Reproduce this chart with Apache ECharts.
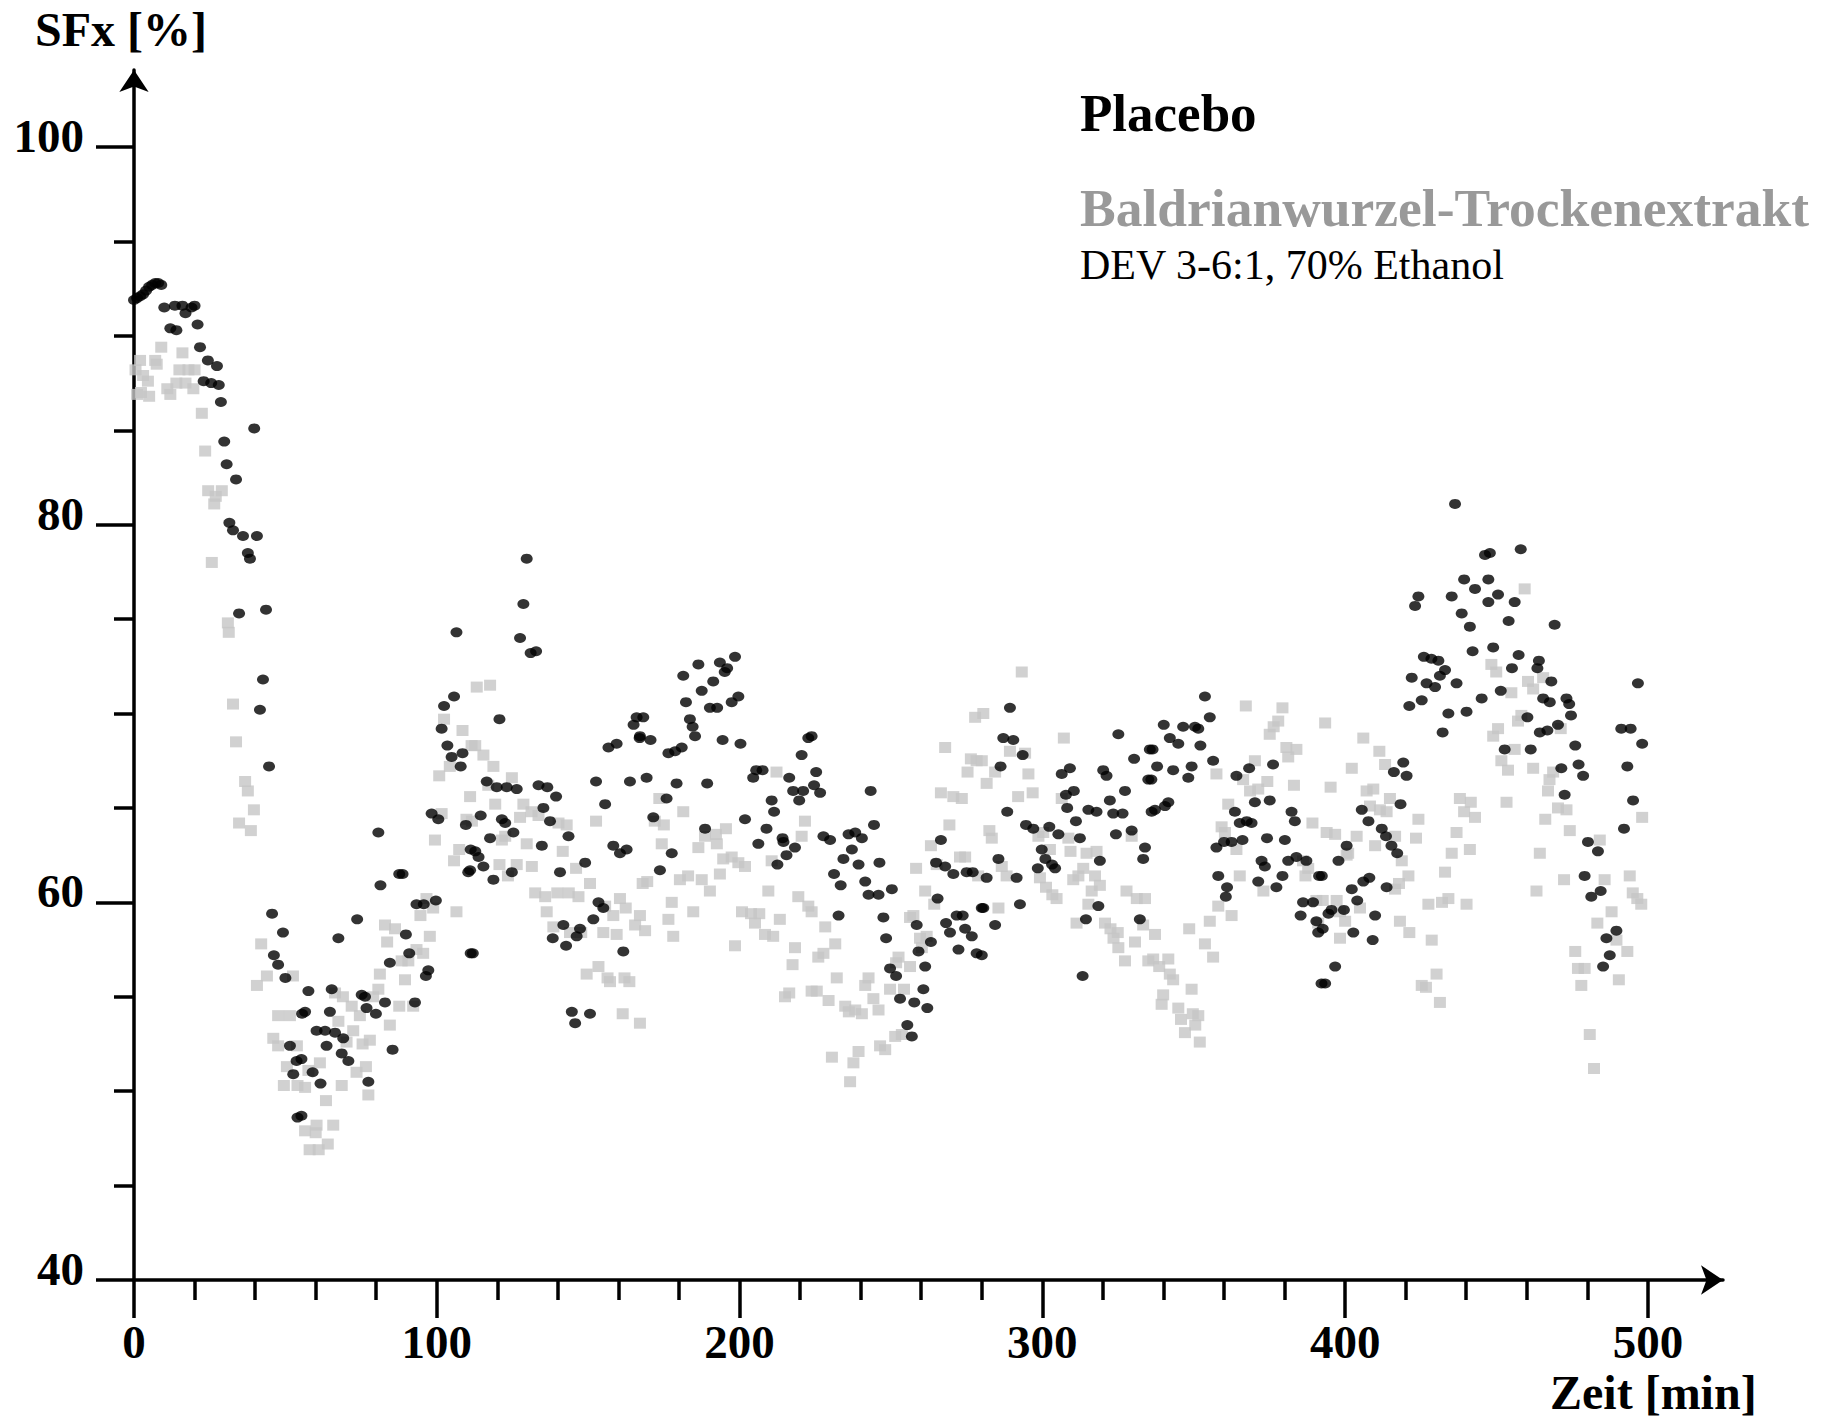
<!DOCTYPE html>
<html><head><meta charset="utf-8">
<script src="https://cdn.jsdelivr.net/npm/echarts@6/dist/echarts.min.js"></script>
<style>html,body{margin:0;padding:0;background:#fff}#chart{width:1838px;height:1421px}</style>
</head><body><div id="chart"></div>
<script>
// Placebo (black) : [time in min, SFx %]
const placebo = [
[0,91.9],[1,92.0],[2,92.1],[3,92.2],[4,92.4],[5,92.6],[6,92.7],[7,92.8],[8,92.8],[9,92.7],
[10,91.5],[12,90.4],[13.5,91.6],[14,90.3],[16,91.6],[17,91.2],[19,91.5],[20,91.6],[21,90.6],[21.8,89.4],
[23,87.6],[24.4,88.7],[25.5,87.5],[27.4,88.4],[28,87.4],[28.7,86.5],[29.8,84.4],[30.6,83.2],[31.5,80.1],[32.7,79.7],
[33.7,82.4],[34.7,75.3],[36,79.4],[37.6,78.5],[38.3,78.2],[39.7,85.1],[40.6,79.4],[41.6,70.2],[42.6,71.8],[43.6,75.5],
[44.6,67.2],[45.6,59.4],[46.2,57.2],[47.6,56.7],[49.2,58.4],[50,56.0],[51.5,52.4],[52.6,50.9],[53.7,51.6],[54,48.6],[55.5,54.1],
[55.3,51.7],[55.3,48.7],[56.5,54.2],[57.6,55.3],[59,51.0],[60.3,53.2],[61.6,50.4],[63.1,53.2],[63.6,52.4],[64.7,54.2],
[65.3,55.4],[66.4,53.1],[67.5,58.1],[68.6,52.0],[69.1,52.8],[70.8,51.6],[73.7,59.1],[75.2,55.1],[76.3,55.0],[76.8,54.4],
[77.4,50.5],[79.9,54.1],[80.7,63.7],[81.4,60.9],[82.9,54.7],[84.5,56.8],[85.4,52.2],[87.6,61.5],[88.7,61.5],[89.8,58.3],
[90.9,57.3],[92.8,54.7],[93.3,59.9],[95.7,59.9],[96.4,56.1],[97.2,56.4],[98.3,64.7],[99.7,60.1],[100.5,64.4],[101.6,69.2],
[102.4,70.4],[103.5,68.3],[104.9,67.7],[105.7,70.9],[106.5,74.3],[107.9,67.2],[108.5,67.9],[109.6,64.1],[110.4,61.6],[111.2,62.8],[111.2,57.3],
[111,61.7],[111.9,57.3],[112.7,62.7],[113.8,62.4],[114.5,64.6],[115.4,61.9],[116.5,66.4],[117.6,63.4],[118.7,61.2],[119.8,66.1],
[120.7,69.7],[121.5,64.4],[122.6,64.2],[123.1,66.1],[124.8,61.6],[125.3,63.7],[126.4,66.0],[127.5,74.0],[128.6,75.8],[129.7,78.2],
[131,73.2],[132.8,73.3],[133.6,66.2],[134.7,63.0],[135.2,65.0],[136.5,66.1],[137.4,64.3],[138.3,58.1],[139.4,65.6],[140.7,61.6],
[141.8,58.8],[142.7,57.7],[143.5,63.5],[144.6,54.2],[145.7,53.6],[146.2,58.2],[147.3,58.6],[149,62.1],[150.6,54.1],[151.7,59.1],
[152.6,66.4],[153.4,60.0],[155,59.7],[155.6,65.2],[156.7,68.2],[158.3,63.0],[159.4,68.4],[160.5,62.6],[161.6,57.4],[162.7,62.8],
[163.8,66.4],[165,69.4],[166,69.8],[167,68.7],
[167.1,68.8],[168.2,69.8],[169.3,66.6],[170.6,68.6],[171.5,64.5],[173.7,61.7],[175.9,65.5],[176.5,67.9],[177.6,62.6],[178.7,68.0],
[179.2,66.3],[180.9,68.2],[181.4,72.0],[182.3,70.6],[183.6,69.7],[184.5,69.3],[185.3,68.8],[186.4,72.6],[187.5,71.2],[188.6,63.9],
[189.3,66.3],[190.2,70.3],[191.3,71.7],[192.6,70.3],[193.5,72.7],[194.4,68.6],[195.1,72.2],[195.9,72.4],[197.4,70.6],[198.5,73.0],
[199.6,70.9],[200.3,68.4],[201.8,64.4],[204.5,66.6],[205.5,67.0],[206.2,63.1],[207.6,67.0],[208.9,63.9],[210.6,65.4],[211.4,64.8],
[212.5,62.0],[214.2,63.4],[214.5,63.2],[215.5,62.5],[216.4,66.6],[217.7,65.9],[218.3,62.9],[219.7,65.4],[220.5,67.8],[221,65.9],[222.7,68.7],
[223.8,68.8],[224.6,66.2],[225.3,66.9],[226.6,65.8],[227.7,63.5],[229.9,63.3],[231.2,61.5],[232.7,59.3],[233.4,60.9],[234.3,62.3],
[236,63.6],[237.1,62.8],[238.2,63.7],[239.3,62.0],[240.4,63.4],[241.5,61.1],[242.6,60.4],[243.3,65.9],[244.4,64.1],[245.9,60.4],
[246.2,62.1],[247.5,59.2],[248.4,58.1],[249.7,56.5],[250.3,60.7],[251.7,56.1],[253,54.9],[255.4,53.5],[256.9,52.9],[257.7,54.7],
[258.5,58.8],[259.1,57.4],[260.7,55.4],[261.3,56.6],[262,54.4],[263.2,57.9],[264.9,62.1],[265.4,60.2],[266.5,63.3],[267.9,61.9],
[268.2,58.9],[269.5,58.4],[270.6,61.5],[271.7,59.3],[272.3,57.5],[273.7,59.3],[274.5,58.6],[275,61.6],[276.7,58.2],[277,61.6],[278.3,57.3],[280,59.7],
[280,57.2],[280.5,59.7],[281.6,61.3],[284.4,58.8],[285.5,62.3],[286.2,67.2],[287.1,68.7],[288.4,64.8],[289.3,70.3],[290.4,68.6],
[291.5,61.3],[292.6,59.9],[293.5,67.8],[294.6,64.1],[297,63.9],[298.5,61.8],[299.8,62.8],[301,62.3],[302.3,64.0],[303.2,62.0],
[304.2,61.8],[305.3,63.6],[306.4,66.8],[307.8,65.7],[308.2,65.0],[309.1,67.1],[310.4,65.9],[311.1,64.3],[312.4,63.4],[313.3,56.1],
[314.4,59.1],[315.2,64.9],[317.9,64.8],[318.5,59.8],[319,62.2],[320.1,67.0],[321.2,66.7],[322.3,65.4],[323.4,64.7],[324.3,63.6],
[325.1,68.9],[326.5,64.7],[327.3,65.9],[329.5,63.8],[330.3,67.6],[332.2,59.1],[333.3,62.3],[333.9,62.9],[335,66.5],[335.5,68.1],[336.1,64.8],
[336.4,68.1],[336,66.5],[337.2,64.9],[337.9,67.2],[340.1,69.4],[341.6,65.3],[340.5,65.1],[342.1,68.7],[343.2,67.0],[344.9,68.4],
[346.5,69.3],[348.2,66.6],[349.3,67.2],[350.4,69.3],[351.5,69.2],[352.2,68.3],[353.7,70.9],[355.3,69.8],[356.4,67.5],[357.5,62.9],
[358.1,61.4],[360.6,60.3],[361,60.8],[360,63.2],[362.5,63.2],[363.6,64.8],[364.1,66.7],[365.2,64.2],[366.1,63.3],[367.5,64.3],
[368.3,67.1],[369.1,64.2],[370.2,65.3],[371.3,61.1],[372.4,62.2],[373.5,61.9],[374.2,63.4],[375.1,65.4],[376.2,67.3],[377.3,60.8],
[379.3,61.4],[380.1,63.3],[381.2,62.2],[382.3,64.8],[383.4,64.3],[383.9,62.4],[385.3,59.3],[386.1,60.0],[387.2,62.2],[389.4,60.0],
[390.5,59.0],[391.1,58.4],[391.4,61.4],[392.2,55.7],
[392.3,61.4],[392.6,58.6],[393.4,55.7],[394.5,59.4],[395.5,59.6],[396.7,56.6],[397.8,62.2],[399.6,59.6],[400.5,63.0],[402.2,60.7],
[402.7,58.4],[404,60.1],[405.5,64.9],[406,61.1],[407.7,64.3],[408,61.3],[409.1,58.0],[409.9,59.3],[412.1,63.9],[413.5,63.5],
[413.7,60.8],[415.3,63.0],[416.1,66.9],[417.2,62.6],[418.3,65.2],[419.2,67.4],[420.3,66.7],[421.2,70.4],[422,71.9],[423.1,75.7],
[424.2,76.2],[425.3,70.7],[426,73.0],[426.9,71.6],[428.5,72.9],[429.7,71.4],[430.8,72.8],[431.3,72.0],[432.2,69.0],[433,72.3],
[434.1,70.0],[435.2,76.2],[436.3,81.1],[436.8,71.6],[438.5,75.3],[439.3,77.1],[440.1,70.1],[441.2,74.6],[442.1,73.3],[442.9,76.6],
[445.1,70.8],[446.2,78.4],[447.3,77.1],[447.3,75.9],
[447.8,78.5],[448.9,73.5],[450.5,76.3],[451.4,71.2],[452.7,68.1],[454,74.9],[455.1,72.4],[456,75.9],[457.3,73.1],[458,78.7],
[460.2,69.8],[461.3,68.1],[463.5,72.4],[464,72.8],[464.3,69.0],[465.4,70.8],[466.8,69.1],[467.6,70.6],[468.1,71.7],[469.2,74.7],
[470.3,69.4],[471.4,67.1],[472.5,65.7],[473.1,70.8],[474,70.5],[474.6,69.9],[476,68.3],[477.1,67.3],[478.6,66.7],[479.1,61.4],
[480.2,63.2],[481.3,60.3],[483.5,62.7],[484.4,60.6],[485.2,56.6],[486.3,58.1],[487.4,57.2],[489.6,58.5],[491.2,69.2],[492.1,63.9],
[493.2,67.2],[494.3,69.2],[495.1,65.4],[496.7,71.6],[498.1,68.4]
];
// Baldrianwurzel-Trockenextrakt (grey) : [time in min, SFx %]
const extract = [
[0.5,88.2],[1,86.9],[2,88.7],[3,87.9],[2.3,87.0],[4.6,87.6],[5,86.8],[7,88.7],[7.5,88.5],[9,89.4],
[11,87.2],[12,86.9],[14,87.5],[15,88.2],[16,89.1],[17,87.5],[18,88.2],[19.6,87.2],[20,88.2],[22.4,85.9],
[23.5,83.9],[24.5,81.8],[25.7,78.0],[26.5,81.1],[27,81.5],[29,81.8],[31,74.8],[31.3,74.3],[32.7,70.5],[33.7,68.5],
[34.7,64.2],[36.7,66.4],[37.6,65.9],[38.6,63.8],[39.6,64.9],[40.6,55.6],[42,57.8],[43.9,56.1],[46,52.8],[47.6,52.4],
[47.6,54.0],[49.5,50.3],[50.5,51.3],[51.5,54.0],[52.5,56.1],[53.8,52.4],[54,50.3],
[56.5,50.2],[56.5,47.9],[57.6,51.1],[58,46.9],[60.3,48.2],[60,47.8],[61,46.9],[61.4,51.5],[63.4,49.5],[64,47.2],
[65.8,48.2],[66.4,55.2],[67.5,53.7],[68.6,50.3],[70.2,52.6],[71.9,54.5],[69,55.0],[72.4,53.2],[73.5,51.0],[74.6,54.0],
[75.5,52.5],[76.6,51.3],[77.4,49.8],[77.9,52.7],[79,55.0],[80.7,55.4],[81.2,56.2],[82.9,58.8],[83.6,57.9],[84.5,53.5],
[86.2,58.6],[87.6,54.5],[88.4,56.9],[89.5,55.9],[90.6,56.9],[92.2,54.5],[93.3,57.5],[94.6,59.3],[95.5,57.3],[96.6,60.2],
[97.7,58.2],[98.8,59.7],[99.4,63.3],[100.8,66.7],[101.6,64.7],[102.4,69.7],[104.3,67.2],[105.7,62.2],[106.5,59.5],[107.4,62.8],
[108.5,69.1],[109.8,64.4],[111,65.6],[111.5,68.3],
[111.6,64.3],[112.7,68.3],[113.2,71.4],[115.4,67.8],[117,66.2],[117.6,71.5],[118.7,67.2],[119.3,65.2],[120.7,62.0],[121.5,63.3],
[122.6,63.5],[123.5,61.4],[124.8,66.6],[126.4,62.0],[127.5,64.5],[128.6,65.2],[129.7,63.1],[131.4,61.9],[131.3,64.8],[132.5,60.5],
[133.6,64.6],[135.8,60.3],[136.3,59.5],[138.5,58.7],[139.8,60.5],[140.2,64.2],[141.6,62.7],[142.9,64.1],[143.6,60.5],[144,58.4],
[146,61.8],[146.8,60.3],[147.7,58.4],[149.5,56.2],[150.6,61.0],[152.6,64.3],[153.4,56.6],[155,58.4],[155.6,59.8],[156.4,56.0],
[157.2,55.8],[158.3,59.3],[159.4,58.3],[160.5,60.2],[161.4,54.1],[162,56.0],[162.4,59.7],[163.6,55.8],[165.5,58.8],[167.1,59.3],[167.1,53.6],
[168,61.0],[168.8,58.5],[169.5,61.1],[172,64.3],[173.5,65.5],[174.3,63.1],[175,64.1],[176.5,59.1],[177.6,60.0],[178.1,58.2],
[180.3,61.2],[181.4,64.8],[183,61.4],[184.7,59.5],[186.4,62.9],[187.5,61.2],[188.6,63.5],[190.2,60.6],[192.2,63.6],[192.5,63.1],
[193.5,61.5],[194.6,62.3],[195.5,63.9],[197.4,62.4],[198.5,57.7],[199.6,62.1],[201.8,61.9],[200.8,59.5],[203.8,59.4],[205.1,58.9],
[206.5,59.4],[208.4,58.3],[209.5,60.6],[210.6,62.2],[211.1,58.2],[212.2,66.9],[213.3,59.1],[215,55.0],[216.4,55.2],[217.5,56.7],
[218.3,57.6],[219.4,60.3],[220.5,63.5],[221.6,64.3],[222.7,59.8],[223.8,55.3],
[223.8,59.5],[225.5,55.3],[226,57.1],[227.7,57.3],[228.3,58.7],[229.4,54.8],[230.5,51.8],[231.6,57.8],[232.1,56.0],[234.9,54.5],
[236.1,54.2],[236.5,50.5],[237.6,51.5],[238.2,54.3],[239.3,52.1],[240.4,54.1],[241.5,55.6],[242.6,56.0],[244.2,54.9],[245.9,54.3],
[246.4,52.4],[248.1,52.2],[249.7,55.4],[251.4,52.9],[251.7,56.8],[252.5,57.1],[253.6,53.0],[254.3,55.4],[256.3,56.6],[256.3,59.2],
[257.4,59.3],[258.3,61.8],[259.6,58.1],[260.2,57.6],[261.3,60.6],[261.8,58.2],[263.2,63.0],[264.3,59.9],[265.1,62.0],[266.5,65.8],
[267.9,68.2],[269.3,64.1],[270.6,65.6],[272.8,62.4],[273.4,65.5],[274.5,62.4],[275.3,66.9],[276.4,67.6],[277.8,69.8],[278.3,67.5],[278.8,61.4],
[280,67.5],[280.5,70.0],[281.6,66.3],[282.5,63.8],[283.3,63.4],[284.4,66.9],[285.5,59.7],[286.6,61.9],[288.2,61.4],[289.3,68.0],
[292,65.6],[293.2,72.2],[294.3,67.9],[295.4,66.8],[296.8,65.8],[298.7,63.5],[299.2,61.3],[300.3,63.7],[301.2,60.8],[302.5,62.8],
[303.3,60.4],[304.7,60.2],[306.4,65.5],[307.1,68.7],[308.6,63.4],[309.3,62.7],[310.2,61.2],[311.3,58.9],[311.9,61.4],[313.5,61.8],
[314.6,62.6],[315.2,59.9],[316.3,60.6],[317.4,61.4],[317.9,62.7],[319,60.9],[320.7,58.9],[322.5,58.6],[324.9,58.4],[323.5,58.1],
[325.1,57.6],[327.3,56.9],[327.8,60.6],[329.5,63.5],[330.6,57.9],[331.2,60.2],[333.3,58.8],[333.9,60.2],[335,56.9],
[336.6,57.0],[337.2,58.3],[338.6,56.6],[339.4,54.6],[339.9,55.1],[341.6,57.0],[342.1,56.2],[343.2,55.9],[344.9,54.4],[345.8,53.8],
[347.1,53.1],[348.5,58.6],[349.3,55.4],[349.7,54.1],[350.5,53.5],[351.5,54.0],[352,52.6],[353.7,57.8],[355.3,59.0],[356.4,57.1],
[357.5,66.8],[358.1,59.8],[359.2,64.0],[360.3,63.7],[361.4,65.2],[362.5,59.3],[364.1,62.8],[365.2,61.4],[366.3,66.5],[367.2,70.4],
[368.6,65.9],[370.2,67.5],[371.3,66.0],[373,60.6],[374.3,66.4],[375.1,68.9],[376.4,69.3],[377.9,69.6],[379.3,70.3],[380.6,68.2],
[381.2,67.7],[383.1,66.2],[383.9,68.1],[386.1,62.2],[387.8,61.8],[386.9,61.4],[389.2,64.2],[390.5,60.1],[391.1,58.9],
[392.6,60.1],[393.4,69.5],[393.9,63.7],[395.2,66.1],[396.7,63.6],[397.2,60.1],[398.3,59.5],[398.3,58.1],[400,59.0],[400.5,62.5],
[401,62.6],[402.2,67.1],[403.8,63.5],[404.9,59.7],[406,68.7],[407.1,65.9],[408.2,65.1],[409.3,66.0],[409.9,63.0],[411.3,68.0],
[411.5,64.9],[413.2,67.3],[413.7,64.8],[414.8,65.5],[416.5,63.5],[416.5,60.7],[417.8,61.0],[418.1,59.0],[418.7,62.2],[420.9,61.4],
[421.2,58.4],[423.4,63.4],[424.2,64.4],[425.3,55.6],[426.7,55.5],[427.5,59.9],[428.6,58.0],[430.2,56.2],[431.3,54.7],[432,60.0],
[433,61.6],[434.1,60.2],[435.2,62.6],[436.8,63.7],[437.9,65.5],[439.3,64.8],[440.1,59.9],[441.2,62.8],[441.5,65.3],[442.9,64.5],
[448.3,72.6],[448.9,68.8],[449.9,72.2],[450.5,69.2],[451.6,67.5],[453.3,65.3],[453.8,67.0],[454.9,71.1],[456,68.1],[457.1,69.6],
[458.2,69.9],[459.3,76.6],[460.4,71.7],[462.1,71.3],[462.1,67.1],[463.2,60.6],[464.3,62.6],[465.4,71.9],[466.1,64.4],[467,65.9],
[467.5,66.5],[468.7,66.9],[470.3,65.0],[471.2,69.2],[472.3,61.2],[473.1,64.9],[474.2,63.8],[476,57.4],[476.9,56.5],[478,55.6],
[479.1,56.5],[480.8,53.0],[482.2,51.2],[483.3,58.9],[484.1,63.3],[485.7,61.2],[488,59.5],[489.6,58.0],[490.4,55.9],[493.2,57.4],
[494,61.4],[495,60.5],[496.5,60.2],[497.8,59.9],[498.1,64.5]
];
const xMajorTicks = [0, 100, 200, 300, 400, 500];
const xMinorTicks = [20,40,60,80,120,140,160,180,220,240,260,280,320,340,360,380,420,440,460,480];
const yMajorTicks = [40, 60, 80, 100];
const yMinorTicks = [45,50,55,65,70,75,85,90,95];
const legendTitle = 'Placebo';
const extractTitle = 'Baldrianwurzel-Trockenextrakt';
const extractSub = 'DEV 3-6:1, 70% Ethanol';

const SERIF = '"Liberation Serif", "Times New Roman", serif';
const chart = echarts.init(document.getElementById('chart'), null, {renderer: 'svg'});
const X_MIN = 0, X_MAX = 524.8, Y_MIN = 40, Y_MAX = 104.08;
const lineStyle = {color: '#000', width: 3.5};
const labelStyle = {fontFamily: SERIF, fontWeight: 'bold', fontSize: 47, color: '#000'};

chart.setOption({
  animation: false,
  backgroundColor: '#fff',
  grid: {left: 134, top: 70, width: 1589, height: 1210, containLabel: false, outerBoundsMode: 'none'},
  xAxis: [
    {type: 'value', position: 'bottom', min: X_MIN, max: X_MAX, splitLine: {show: false},
     axisLine: {show: true, onZero: false, symbol: ['none', 'arrow'], symbolSize: [22, 22], lineStyle: lineStyle},
     axisTick: {show: true, customValues: xMajorTicks, length: 38, lineStyle: lineStyle},
     axisLabel: Object.assign({show: true, customValues: xMajorTicks, margin: 62, verticalAlign: 'middle'}, labelStyle)},
    {type: 'value', position: 'bottom', min: X_MIN, max: X_MAX, splitLine: {show: false},
     axisLine: {show: false, onZero: false},
     axisTick: {show: true, customValues: xMinorTicks, length: 20, lineStyle: lineStyle},
     axisLabel: {show: false}}
  ],
  yAxis: [
    {type: 'value', position: 'left', min: Y_MIN, max: Y_MAX, splitLine: {show: false},
     axisLine: {show: true, onZero: false, symbol: ['none', 'arrow'], symbolSize: [22, 22], lineStyle: lineStyle},
     axisTick: {show: true, customValues: yMajorTicks, length: 38, lineStyle: lineStyle},
     axisLabel: Object.assign({show: true, customValues: yMajorTicks, margin: 50, align: 'right', verticalAlign: 'bottom', lineHeight: 22}, labelStyle)},
    {type: 'value', position: 'left', min: Y_MIN, max: Y_MAX, splitLine: {show: false},
     axisLine: {show: false, onZero: false},
     axisTick: {show: true, customValues: yMinorTicks, length: 20, lineStyle: lineStyle},
     axisLabel: {show: false}}
  ],
  series: [
    {name: extractTitle, type: 'scatter', xAxisIndex: 0, yAxisIndex: 0, data: extract,
     symbol: 'rect', symbolSize: [12, 11], itemStyle: {color: '#c6c6c6'}, silent: true},
    {name: legendTitle, type: 'scatter', xAxisIndex: 0, yAxisIndex: 0, data: placebo,
     symbol: 'circle', symbolSize: [12, 10], itemStyle: {color: '#000'}, silent: true}
  ],
  graphic: [
    {type: 'text', x: 35, y: 29, style: {text: 'SFx [%]', font: 'bold 48px ' + SERIF, fill: '#000', align: 'left', verticalAlign: 'middle'}},
    {type: 'text', x: 1550, y: 1392, style: {text: 'Zeit [min]', font: 'bold 48px ' + SERIF, fill: '#000', align: 'left', verticalAlign: 'middle'}},
    {type: 'text', x: 1080, y: 113, style: {text: legendTitle, font: 'bold 53px ' + SERIF, fill: '#000', align: 'left', verticalAlign: 'middle'}},
    {type: 'text', x: 1080, y: 208, style: {text: extractTitle, font: 'bold 53.5px ' + SERIF, fill: '#999999', align: 'left', verticalAlign: 'middle'}},
    {type: 'text', x: 1080, y: 265, style: {text: extractSub, font: '42px ' + SERIF, fill: '#000', align: 'left', verticalAlign: 'middle'}}
  ]
});
</script></body></html>
